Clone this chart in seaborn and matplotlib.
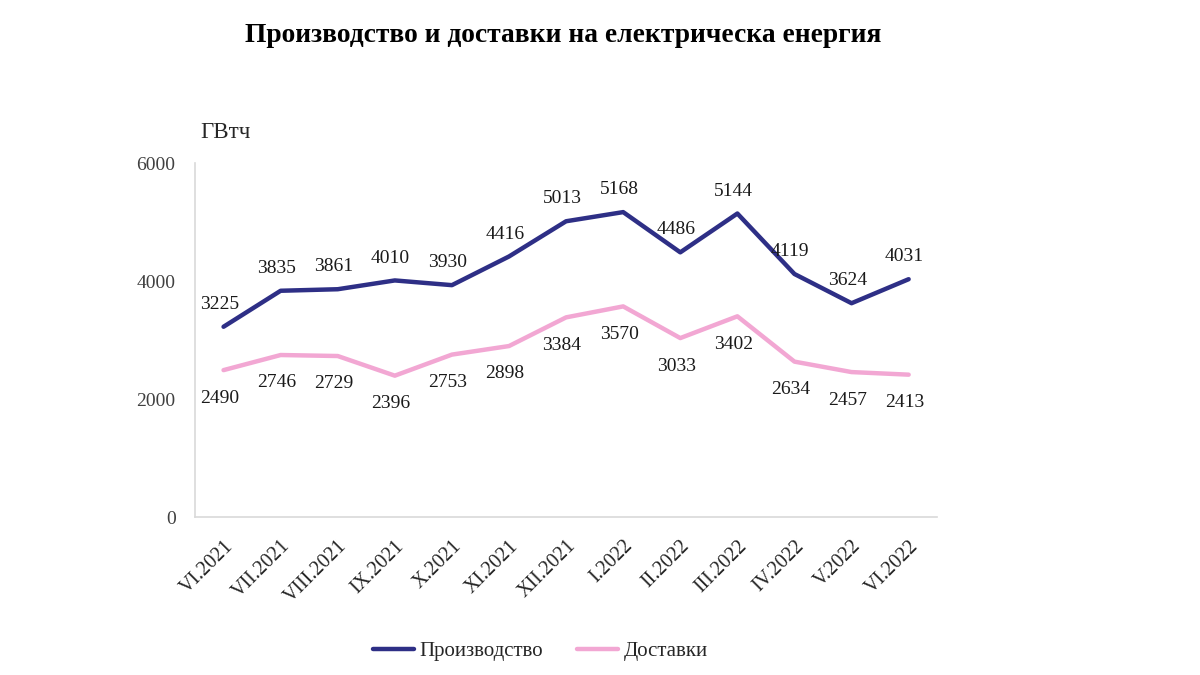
import matplotlib
matplotlib.use("Agg")
import matplotlib.pyplot as plt
import seaborn as sns
import pandas as pd

months = ["VI.2021", "VII.2021", "VIII.2021", "IX.2021", "X.2021", "XI.2021", "XII.2021",
          "I.2022", "II.2022", "III.2022", "IV.2022", "V.2022", "VI.2022"]
production = [3225, 3835, 3861, 4010, 3930, 4416, 5013, 5168, 4486, 5144, 4119, 3624, 4031]
deliveries = [2490, 2746, 2729, 2396, 2753, 2898, 3384, 3570, 3033, 3402, 2634, 2457, 2413]
series_names = ["Производство", "Доставки"]
yticks = [0, 2000, 4000, 6000]

sns.set_theme(style="white")
plt.rcParams["font.family"] = ["Liberation Serif", "DejaVu Serif"]

df = pd.DataFrame({
    "month": months * 2,
    "pos": list(range(len(months))) * 2,
    "value": production + deliveries,
    "series": [series_names[0]] * len(months) + [series_names[1]] * len(months),
})

colors = {series_names[0]: "#2e2f86", series_names[1]: "#f2a7d3"}

fig = plt.figure(figsize=(12, 6.75), dpi=100)
ax = fig.add_axes([0.1625, 0.234, 0.6185, 0.5245])

sns.lineplot(data=df, x="pos", y="value", hue="series", palette=colors, linewidth=3.2,
             ax=ax, legend=True, sort=False)

ax.set_xlim(-0.5, len(months) - 0.5)
ax.set_ylim(0, 6000)
ax.set_yticks(yticks)
ax.set_yticklabels([str(v) for v in yticks], fontsize=14, color="#404040")
ax.set_xticks(range(len(months)))
ax.set_xticklabels(months, rotation=45, ha="right", rotation_mode="anchor",
                   fontsize=14.5, color="#262626")
ax.tick_params(axis="y", length=0, pad=14)
ax.tick_params(axis="x", length=0, pad=14)
ax.set_xlabel("")
ax.set_ylabel("")

for s in ["top", "right"]:
    ax.spines[s].set_visible(False)
for s in ["left", "bottom"]:
    ax.spines[s].set_color("#d9d9d9")
    ax.spines[s].set_linewidth(1.2)

for i, v in enumerate(production):
    ax.annotate(str(v), (i, v), xytext=(-3, 10), textcoords="offset points",
                ha="center", va="bottom", fontsize=14, color="#1a1a1a")
for i, v in enumerate(deliveries):
    ax.annotate(str(v), (i, v), xytext=(-3, -14), textcoords="offset points",
                ha="center", va="top", fontsize=14, color="#1a1a1a")

ax.text(0.007, 1.085, "ГВтч", transform=ax.transAxes, fontsize=16.5, color="#262626",
        ha="left", va="center")

leg = ax.legend(loc="center", bbox_to_anchor=(0.465, -0.3785),
                ncol=2, frameon=False, fontsize=15, handlelength=2.0, columnspacing=1.6,
                handletextpad=0.25)
for line in leg.get_lines():
    line.set_linewidth(3.2)

fig.text(0.469, 0.948, "Производство и доставки на електрическа енергия",
         ha="center", va="center", fontsize=19.8, fontweight="bold", color="#000000")

fig.savefig("out.png", dpi=100, facecolor="white")
